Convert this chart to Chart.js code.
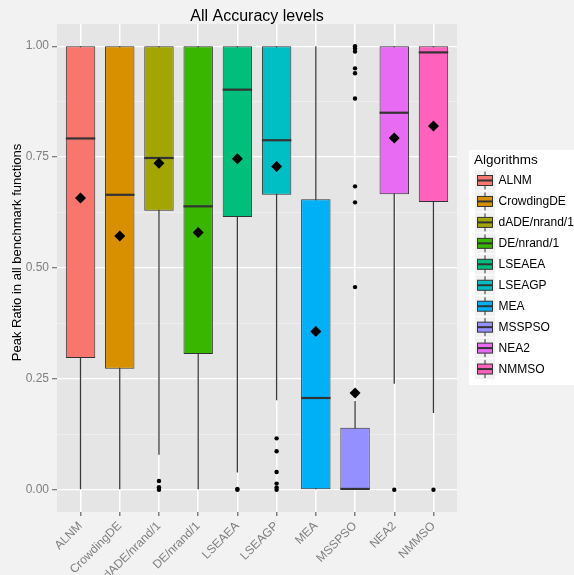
<!DOCTYPE html>
<html>
<head>
<meta charset="utf-8">
<script src="https://cdn.jsdelivr.net/npm/chart.js@4/dist/chart.umd.min.js"></script>
<style>
  html, body { margin: 0; padding: 0; background: #F2F2F2; }
  #wrap { width: 574px; height: 575px; }
</style>
</head>
<body>
<div id="wrap"><canvas id="chart" width="574" height="575"></canvas></div>
<script>
const algorithms = ["ALNM", "CrowdingDE", "dADE/nrand/1", "DE/nrand/1", "LSEAEA",
    "LSEAGP", "MEA", "MSSPSO", "NEA2", "NMMSO"];
const colors = ["#F8766D", "#D89000", "#A3A500", "#39B600", "#00BF7D",
    "#00BFC4", "#00B0F6", "#9590FF", "#E76BF3", "#FF62BC"];

const whiskerLow = [0, 0, 0.079, 0, 0.039, 0.202, 0, 0, 0.239, 0.173];
const q1 = [0.297, 0.273, 0.629, 0.306, 0.615, 0.665, 0, 0, 0.666, 0.649];
const medians = [0.792, 0.665, 0.748, 0.639, 0.902, 0.788, 0.207, 0.002, 0.85, 0.986];
const q3 = [1, 1, 1, 1, 1, 1, 0.655, 0.14, 1, 1];
const whiskerHigh = [1, 1, 1, 1, 1, 1, 1, 0.2, 1, 1];
const means = [0.658, 0.572, 0.736, 0.58, 0.746, 0.729, 0.357, 0.218, 0.793, 0.82];
const outliers = [
    [],
    [],
    [0.02, 0.006, 0.002, 0],
    [],
    [0.002, 0],
    [0.116, 0.087, 0.04, 0.014, 0.005, 0],
    [],
    [1, 0.995, 0.988, 0.95, 0.939, 0.882, 0.684, 0.648, 0.457, 0.22],
    [0],
    [0],
];
const yTicks = [0, 0.125, 0.25, 0.375, 0.5, 0.625, 0.75, 0.875, 1];

const FONT = "'Liberation Sans', Arial, sans-serif";
const idx = algorithms.map((_, i) => i);
const isMajor = (v) => Math.abs(v / 0.25 - Math.round(v / 0.25)) < 1e-6;

const backdrop = {
    id: "backdrop",
    beforeDraw(chart) {
        const { ctx, chartArea: a, width, height } = chart;
        ctx.save();
        ctx.fillStyle = "#F2F2F2";
        ctx.fillRect(0, 0, width, height);
        ctx.fillStyle = "#E5E5E5";
        ctx.fillRect(a.left, a.top, a.right - a.left, a.bottom - a.top);
        ctx.restore();
    },
};

// title, y-axis title and the ggplot-like legend
const decorations = {
    id: "decorations",
    afterDraw(chart) {
        const { ctx, chartArea: a } = chart;
        ctx.save();
        ctx.fillStyle = "#000";
        ctx.textAlign = "center";
        ctx.textBaseline = "alphabetic";
        ctx.font = "16px " + FONT;
        ctx.fillText("All Accuracy levels", (a.left + a.right) / 2, 20.5);

        ctx.save();
        ctx.translate(20.5, 252.5);
        ctx.rotate(-Math.PI / 2);
        ctx.font = "13px " + FONT;
        ctx.fillText("Peak Ratio in all benchmark functions", 0, 0);
        ctx.restore();

        // legend
        const lx = 469, ly = 150;
        ctx.fillStyle = "#FFFFFF";
        ctx.fillRect(lx, ly, 574 - lx, 235);
        ctx.fillStyle = "#000";
        ctx.textAlign = "left";
        ctx.font = "13.5px " + FONT;
        ctx.fillText("Algorithms", 474, 164);

        ctx.font = "12px " + FONT;
        ctx.textBaseline = "middle";
        algorithms.forEach((name, i) => {
            const cy = 180.5 + i * 20.95;
            ctx.fillStyle = "#F2F2F2";
            ctx.fillRect(475, cy - 10, 20, 20);
            ctx.strokeStyle = "#333333";
            ctx.lineWidth = 1;
            ctx.beginPath();
            ctx.moveTo(485, cy - 9);
            ctx.lineTo(485, cy + 9);
            ctx.stroke();
            ctx.fillStyle = colors[i];
            ctx.fillRect(477.5, cy - 5, 15, 10);
            ctx.strokeRect(477.5, cy - 5, 15, 10);
            ctx.lineWidth = 2;
            ctx.beginPath();
            ctx.moveTo(477.5, cy);
            ctx.lineTo(492.5, cy);
            ctx.stroke();
            ctx.fillStyle = "#000";
            ctx.fillText(name, 498.5, cy + 0.5);
        });
        ctx.restore();
    },
};

new Chart(document.getElementById("chart"), {
    type: "bar",
    data: {
        datasets: [
            {
                label: "whiskers",
                data: idx.map((i) => ({ x: i, y: [whiskerLow[i], whiskerHigh[i]] })),
                backgroundColor: "#3A3A3A",
                maxBarThickness: 1.3,
                grouped: false,
                order: 5,
            },
            {
                label: "boxes",
                data: idx.map((i) => ({ x: i, y: [q1[i], q3[i]] })),
                backgroundColor: colors,
                borderColor: "#333333",
                borderWidth: 1,
                borderSkipped: false,
                grouped: false,
                barPercentage: 0.75,
                categoryPercentage: 1,
                order: 4,
            },
            {
                type: "scatter",
                label: "median",
                data: idx.map((i) => ({ x: i, y: medians[i] })),
                pointStyle: "line",
                pointRadius: 14.7,
                pointBorderWidth: 2.2,
                pointBorderColor: "#333333",
                order: 3,
            },
            {
                type: "scatter",
                label: "outliers",
                data: outliers.flatMap((vals, i) => vals.map((v) => ({ x: i, y: v }))),
                pointStyle: "circle",
                pointRadius: 2.2,
                pointBackgroundColor: "#000",
                pointBorderWidth: 0,
                order: 2,
            },
            {
                type: "scatter",
                label: "mean",
                data: idx.map((i) => ({ x: i, y: means[i] })),
                pointStyle: "rectRot",
                pointRadius: 5.5,
                pointBackgroundColor: "#000",
                pointBorderWidth: 0,
                order: 1,
            },
        ],
    },
    options: {
        responsive: false,
        animation: false,
        layout: { padding: { left: 0, right: 117, top: 24, bottom: 0 } },
        plugins: {
            legend: { display: false },
            title: { display: false },
            tooltip: { enabled: false },
        },
        scales: {
            x: {
                type: "linear",
                min: -0.6,
                max: 9.6,
                offset: false,
                afterBuildTicks: (s) => { s.ticks = idx.map((i) => ({ value: i })); },
                afterFit: (s) => { s.height = 63; },
                grid: { offset: false, color: "#FFFFFF", lineWidth: 1.5, tickColor: "#7F7F7F", tickLength: 4 },
                border: { display: false },
                ticks: {
                    autoSkip: false,
                    minRotation: 45,
                    maxRotation: 45,
                    padding: 3,
                    color: "#7F7F7F",
                    font: { family: FONT, size: 12 },
                    callback: (v) => algorithms[v] ?? "",
                },
            },
            y: {
                type: "linear",
                min: -0.05,
                max: 1.05,
                afterBuildTicks: (s) => { s.ticks = yTicks.map((v) => ({ value: v })); },
                afterFit: (s) => { s.width = 57; },
                grid: {
                    color: (c) => (isMajor(c.tick.value) ? "#FFFFFF" : "#F2F2F2"),
                    lineWidth: (c) => (isMajor(c.tick.value) ? 1.3 : 0.7),
                    tickColor: (c) => (isMajor(c.tick.value) ? "#7F7F7F" : "rgba(0,0,0,0)"),
                    tickLength: 5,
                },
                border: { display: false },
                ticks: {
                    padding: 3,
                    color: "#7F7F7F",
                    font: { family: FONT, size: 12 },
                    callback: (v) => (isMajor(v) ? v.toFixed(2) : ""),
                },
            },
        },
    },
    plugins: [backdrop, decorations],
});
</script>
</body>
</html>
